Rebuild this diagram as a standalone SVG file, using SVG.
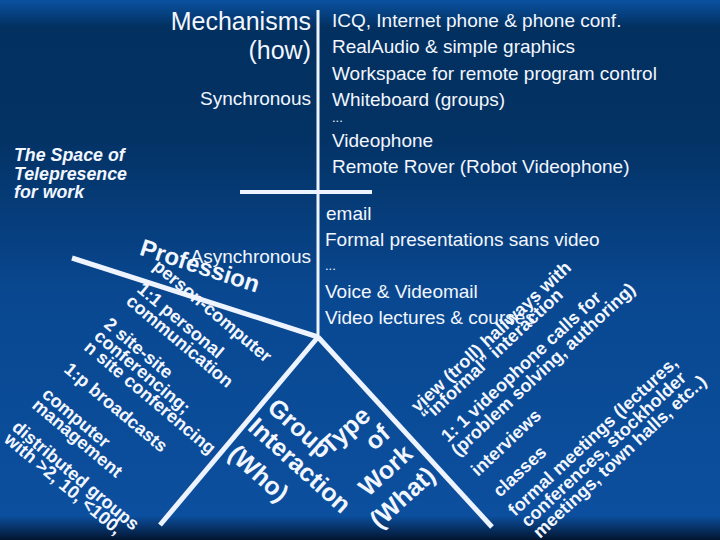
<svg xmlns="http://www.w3.org/2000/svg" width="720" height="540" viewBox="0 0 720 540">
<defs>
<linearGradient id="bg" x1="0" y1="0" x2="0" y2="1">
<stop offset="0" stop-color="#0a52a2"/>
<stop offset="0.05" stop-color="#02305f"/>
<stop offset="0.25" stop-color="#033264"/>
<stop offset="0.55" stop-color="#094891"/>
<stop offset="0.955" stop-color="#0c4f9e"/>
<stop offset="1" stop-color="#021530"/>
</linearGradient>
<style>
text{font-family:"Liberation Sans",Arial,sans-serif;fill:#f2f6ff}
.list{font-size:19px}
.lbl{font-size:19px}
.big{font-size:25px}
.rot{font-size:18px;font-weight:bold}
.axis{font-size:25px;font-weight:bold}
.title{font-size:17.8px;font-weight:bold;font-style:italic}
.ln{stroke:#eef4ff;fill:none;stroke-linecap:butt}
</style>
</defs>
<rect width="720" height="540" fill="url(#bg)"/>

<g id="connectors">
<line class="ln" x1="318" y1="10" x2="318" y2="338" stroke-width="3"/>
<line class="ln" x1="240" y1="192" x2="372" y2="192" stroke-width="4"/>
<line class="ln" x1="72" y1="258" x2="318" y2="337" stroke-width="5"/>
<line class="ln" x1="318" y1="337" x2="160" y2="525" stroke-width="5"/>
<line class="ln" x1="318" y1="337" x2="492" y2="527" stroke-width="5"/>
</g>

<g id="title">
<text class="title" x="14" y="161">The Space of</text>
<text class="title" x="14" y="180">Telepresence</text>
<text class="title" x="14" y="198">for work</text>
</g>

<g id="mechanisms">
<text class="big" x="311" y="30" text-anchor="end">Mechanisms</text>
<text class="big" x="311" y="59" text-anchor="end">(how)</text>
</g>

<g id="synchronous">
<text class="lbl" x="311" y="105" text-anchor="end">Synchronous</text>
</g>

<g id="sync-list">
<text class="list" x="332" y="27">ICQ, Internet phone &amp; phone conf.</text>
<text class="list" x="332" y="53">RealAudio &amp; simple graphics</text>
<text class="list" x="332" y="80">Workspace for remote program control</text>
<text class="list" x="332" y="106">Whiteboard (groups)</text>
<text class="list" x="332" y="122" style="font-size:13px">...</text>
<text class="list" x="332" y="147">Videophone</text>
<text class="list" x="332" y="173">Remote Rover (Robot Videophone)</text>
</g>

<g id="asynchronous">
<text class="lbl" x="311" y="263" text-anchor="end">Asynchronous</text>
</g>

<g id="async-list">
<text class="list" x="326" y="220">email</text>
<text class="list" x="325" y="246">Formal presentations sans video</text>
<text class="list" x="325" y="270" style="font-size:13px">...</text>
<text class="list" x="325" y="298">Voice &amp; Videomail</text>
<text class="list" x="325" y="324">Video lectures &amp; courses</text>
</g>

<g id="profession">
<text style="font-size:24px;font-weight:bold" transform="translate(200,266) rotate(18)" text-anchor="middle" y="8">Profession</text>
</g>

<g id="who-list">
<text class="rot" transform="translate(152,268) rotate(40)">person-computer</text>
<text class="rot" transform="translate(136,291) rotate(40)">1:1 personal</text>
<text class="rot" transform="translate(125,303) rotate(40)">communication</text>
<text class="rot" transform="translate(103,326) rotate(40)">2 site-site</text>
<text class="rot" transform="translate(93,338) rotate(40)">conferencing;</text>
<text class="rot" transform="translate(83,349) rotate(40)">n site conferencing</text>
<text class="rot" transform="translate(63,371) rotate(40)">1:p broadcasts</text>
<text class="rot" transform="translate(41,396) rotate(40)">computer</text>
<text class="rot" transform="translate(31,407) rotate(40)">management</text>
<text class="rot" transform="translate(11,429) rotate(40)">distributed groups</text>
<text class="rot" transform="translate(3,441) rotate(40)">with &gt;2, 10, &lt;100,</text>
</g>

<g id="group-interaction">
<text class="axis" transform="translate(300,428) rotate(42)" text-anchor="middle" y="9">Group</text>
<text class="axis" transform="translate(300,465) rotate(42)" text-anchor="middle" y="9">Interaction</text>
<text class="axis" transform="translate(259,473) rotate(42)" text-anchor="middle" y="9">(Who)</text>
</g>

<g id="type-of-work">
<text class="axis" transform="translate(345,430) rotate(-42)" text-anchor="middle" y="9">Type</text>
<text class="axis" transform="translate(377,437) rotate(-42)" text-anchor="middle" y="9">of</text>
<text class="axis" transform="translate(385,470) rotate(-42)" text-anchor="middle" y="9">Work</text>
<text class="axis" transform="translate(402,497) rotate(-42)" text-anchor="middle" y="9">(What)</text>
</g>

<g id="what-list">
<text class="rot" transform="translate(418,413) rotate(-43)">view (troll) hallways with</text>
<text class="rot" transform="translate(428,423) rotate(-43)">“informal” interaction</text>
<text class="rot" transform="translate(448,443) rotate(-43)">1: 1 videophone calls for</text>
<text class="rot" transform="translate(458,457) rotate(-43)">(problem solving, authoring)</text>
<text class="rot" transform="translate(478,477) rotate(-43)">interviews</text>
<text class="rot" transform="translate(500,498) rotate(-43)">classes</text>
<text class="rot" transform="translate(515,517) rotate(-43)">formal meetings (lectures,</text>
<text class="rot" transform="translate(528,528) rotate(-43)">conferences, stockholder</text>
<text class="rot" transform="translate(540,539) rotate(-43)">meetings, town halls, etc..)</text>
</g>
</svg>
